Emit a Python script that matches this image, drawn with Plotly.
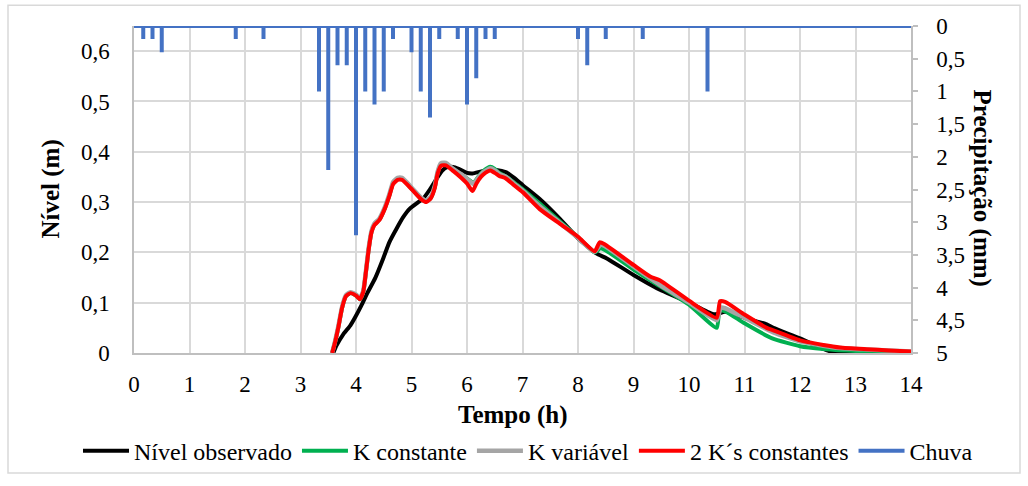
import plotly.graph_objects as go

# ---- Data ---------------------------------------------------------------
# Observed level (m) against time (h)
obs_t = [3.59, 3.65, 3.77, 3.90, 3.98, 4.10, 4.19, 4.35, 4.49, 4.60, 4.73, 4.85,
         4.97, 5.10, 5.21, 5.33, 5.45, 5.55, 5.63, 5.75, 5.85, 6.00, 6.10, 6.29,
         6.53, 6.71, 6.85, 7.01, 7.31, 7.67, 8.00, 8.33, 8.52, 9.00, 9.42, 10.00,
         10.44, 10.52, 10.65, 11.00, 11.40, 11.52, 12.00, 12.42, 12.66, 13.00, 14.00]
obs_level = [0.000, 0.015, 0.037, 0.055, 0.070, 0.095, 0.116, 0.150, 0.188, 0.220, 0.247, 0.270,
             0.287, 0.298, 0.307, 0.325, 0.346, 0.362, 0.369, 0.370, 0.366, 0.358, 0.357, 0.362,
             0.364, 0.359, 0.348, 0.333, 0.306, 0.267, 0.228, 0.198, 0.188, 0.155, 0.129, 0.100,
             0.077, 0.078, 0.082, 0.070, 0.057, 0.050, 0.029, 0.008, 0.000, 0.000, 0.000]

# Simulated level, constant K
kc_t = [3.57, 3.62, 3.68, 3.75, 3.82, 3.90, 4.00, 4.07, 4.13, 4.18, 4.23, 4.28,
        4.33, 4.42, 4.52, 4.60, 4.67, 4.75, 4.83, 5.00, 5.17, 5.27, 5.35, 5.42,
        5.47, 5.53, 5.62, 5.75, 5.90, 6.00, 6.12, 6.20, 6.30, 6.42, 6.50, 6.58,
        6.70, 6.83, 7.00, 7.31, 7.67, 8.00, 8.30, 8.40, 8.50, 9.00, 9.48, 10.00,
        10.50, 10.55, 10.65, 11.00, 11.50, 12.00, 12.42, 13.00, 14.00]
kc_level = [0.000, 0.021, 0.050, 0.090, 0.113, 0.119, 0.114, 0.107, 0.121, 0.162, 0.208, 0.241,
            0.255, 0.265, 0.288, 0.313, 0.338, 0.346, 0.346, 0.327, 0.307, 0.301, 0.309, 0.330,
            0.358, 0.375, 0.376, 0.364, 0.354, 0.347, 0.338, 0.350, 0.362, 0.370, 0.366, 0.358,
            0.351, 0.340, 0.326, 0.297, 0.262, 0.230, 0.200, 0.208, 0.204, 0.166, 0.1325, 0.096,
            0.050, 0.084, 0.083, 0.059, 0.029, 0.0135, 0.008, 0.004, 0.002]

# Simulated level, variable K
kv_t = [3.57, 3.62, 3.68, 3.75, 3.82, 3.90, 4.00, 4.07, 4.13, 4.18, 4.23, 4.28,
        4.33, 4.42, 4.52, 4.60, 4.67, 4.75, 4.83, 5.00, 5.17, 5.27, 5.35, 5.42,
        5.47, 5.53, 5.62, 5.75, 5.90, 6.00, 6.12, 6.20, 6.30, 6.42, 6.50, 6.58,
        6.70, 6.83, 7.00, 7.31, 7.67, 8.00, 8.30, 8.40, 8.48, 9.00, 9.48, 10.00,
        10.50, 10.57, 10.65, 11.00, 11.52, 12.00, 12.42, 12.72, 13.20, 13.60, 14.00]
kv_level = [0.000, 0.022, 0.052, 0.092, 0.115, 0.121, 0.116, 0.109, 0.123, 0.164, 0.210, 0.243,
            0.257, 0.267, 0.290, 0.315, 0.340, 0.348, 0.348, 0.329, 0.309, 0.303, 0.311, 0.332,
            0.360, 0.377, 0.378, 0.366, 0.355, 0.346, 0.336, 0.348, 0.360, 0.367, 0.363, 0.356,
            0.350, 0.338, 0.323, 0.292, 0.259, 0.229, 0.201, 0.215, 0.213, 0.172, 0.135, 0.100,
            0.065, 0.090, 0.089, 0.070, 0.041, 0.023, 0.0145, 0.010, 0.007, 0.005, 0.003]

# Simulated level, two constant K values
k2_t = [3.57, 3.62, 3.68, 3.75, 3.82, 3.90, 4.00, 4.07, 4.13, 4.18, 4.23, 4.28,
        4.33, 4.42, 4.52, 4.60, 4.67, 4.75, 4.83, 5.00, 5.17, 5.27, 5.35, 5.42,
        5.47, 5.53, 5.62, 5.75, 5.90, 6.00, 6.10, 6.17, 6.25, 6.33, 6.42, 6.50,
        6.58, 6.70, 6.83, 7.00, 7.31, 7.67, 8.00, 8.30, 8.39, 8.48, 9.00, 9.30,
        9.48, 10.00, 10.50, 10.56, 10.65, 11.00, 11.40, 11.52, 12.00, 12.42, 12.72,
        13.20, 13.60, 14.00]
k2_level = [0.000, 0.020, 0.050, 0.090, 0.113, 0.119, 0.114, 0.107, 0.121, 0.162, 0.207, 0.240,
            0.254, 0.264, 0.287, 0.312, 0.336, 0.344, 0.344, 0.326, 0.306, 0.300, 0.308, 0.328,
            0.356, 0.372, 0.373, 0.362, 0.348, 0.337, 0.322, 0.337, 0.350, 0.358, 0.363, 0.358,
            0.352, 0.347, 0.335, 0.320, 0.286, 0.257, 0.231, 0.202, 0.220, 0.216, 0.175, 0.152,
            0.144, 0.104, 0.070, 0.103, 0.1015, 0.0765, 0.050, 0.045, 0.025, 0.016, 0.011,
            0.0075, 0.005, 0.003]

# Rainfall (mm) per 10-minute interval, time in minutes
rain_min = [10, 20, 30, 110, 140, 200, 210, 220, 230, 240, 250, 260, 270, 280,
            300, 310, 320, 330, 350, 360, 370, 380, 390, 480, 490, 510, 550, 620]
rain_mm = [0.2, 0.2, 0.4, 0.2, 0.2, 1.0, 2.2, 0.6, 0.6, 3.2, 1.0, 1.2, 1.0, 0.2,
           0.4, 1.0, 1.4, 0.2, 0.2, 1.2, 0.8, 0.2, 0.2, 0.2, 0.6, 0.2, 0.2, 1.0]

x_ticks = list(range(0, 15))
level_ticks = [0, 0.1, 0.2, 0.3, 0.4, 0.5, 0.6]
rain_ticks = [0, 0.5, 1, 1.5, 2, 2.5, 3, 3.5, 4, 4.5, 5]

# ---- Rain hyetograph drawn as a line hanging from the top axis ----------
rain_x, rain_y = [0.0], [0.0]
for m, v in zip(rain_min, rain_mm):
    t = m / 60.0
    rain_x += [t, t, t]
    rain_y += [0.0, v, 0.0]
rain_x.append(14.0)
rain_y.append(0.0)

FONT = "Liberation Serif, Times New Roman, Tinos, DejaVu Serif, serif"
W, H = 1028, 486
ML, MR, MT, MB = 134, 117, 26, 130
PW, PH = W - ML - MR, H - MT - MB


def px_x(p):
    return (p - ML) / PW


def px_y(p):
    return (H - MB - p) / PH


fig = go.Figure()

fig.add_trace(go.Scatter(x=obs_t, y=obs_level, name="Nível observado", mode="lines",
                         line=dict(color="#000000", width=4, shape="spline", smoothing=0.5)))
fig.add_trace(go.Scatter(x=kc_t, y=kc_level, name="K constante", mode="lines",
                         line=dict(color="#00B050", width=4, shape="spline", smoothing=0.5)))
fig.add_trace(go.Scatter(x=kv_t, y=kv_level, name="K variável", mode="lines",
                         line=dict(color="#A5A5A5", width=4.5, shape="spline", smoothing=0.5)))
fig.add_trace(go.Scatter(x=k2_t, y=k2_level, name="2 K´s constantes", mode="lines",
                         line=dict(color="#FF0000", width=4, shape="spline", smoothing=0.5)))
fig.add_trace(go.Scatter(x=rain_x, y=rain_y, name="Chuva", mode="lines", yaxis="y2",
                         line=dict(color="#4472C4", width=4)))

grid = "#D9D9D9"
axis_line = "#BFBFBF"
tickfont = dict(family=FONT, size=23, color="#000000")
titlefont = dict(family=FONT, size=25, color="#000000")

fig.update_layout(
    width=W, height=H,
    margin=dict(l=ML, r=MR, t=MT, b=MB, pad=0),
    paper_bgcolor="#FFFFFF", plot_bgcolor="#FFFFFF",
    separators=",.",
    showlegend=True,
    font=dict(family=FONT, color="#000000"),
    xaxis=dict(range=[0, 14], tickvals=x_ticks, showgrid=True, gridcolor=grid, gridwidth=1.5,
               showline=True, linecolor=axis_line, linewidth=1.5, zeroline=False,
               ticks="", tickfont=tickfont, ticklabelstandoff=10),
    yaxis=dict(range=[0, 0.65], tickvals=level_ticks, showgrid=True, gridcolor=grid, gridwidth=1.5,
               showline=True, linecolor=axis_line, linewidth=1.5, zeroline=False,
               ticks="", tickfont=tickfont, ticklabelstandoff=18),
    yaxis2=dict(range=[5, 0], tickvals=rain_ticks, overlaying="y", side="right",
                showgrid=False, showline=True, linecolor=axis_line, linewidth=1.5,
                zeroline=False, ticks="outside", ticklen=5, tickcolor=axis_line, tickwidth=1.5,
                tickfont=tickfont, ticklabelstandoff=14),
    legend=dict(orientation="h", x=px_x(78), y=px_y(455), xanchor="left", yanchor="middle",
                font=dict(family=FONT, size=24, color="#000000"), itemwidth=46,
                bgcolor="rgba(0,0,0,0)", traceorder="normal", tracegroupgap=0),
    annotations=[
        dict(text="<b>Nível (m)</b>", textangle=-90, x=px_x(50), y=px_y(191),
             xref="paper", yref="paper", xanchor="center", yanchor="middle",
             showarrow=False, font=titlefont),
        dict(text="<b>Precipitação (mm)</b>", textangle=90, x=px_x(982), y=px_y(190),
             xref="paper", yref="paper", xanchor="center", yanchor="middle",
             showarrow=False, font=titlefont),
        dict(text="<b>Tempo (h)</b>", x=px_x(513), y=px_y(419),
             xref="paper", yref="paper", xanchor="center", yanchor="middle",
             showarrow=False, font=titlefont),
    ],
    shapes=[
        dict(type="rect", xref="paper", yref="paper",
             x0=px_x(8), x1=px_x(1020), y0=px_y(477), y1=px_y(5),
             line=dict(color="#D9D9D9", width=1.5), fillcolor="rgba(0,0,0,0)", layer="below"),
    ],
)

fig.write_html("out.html")
